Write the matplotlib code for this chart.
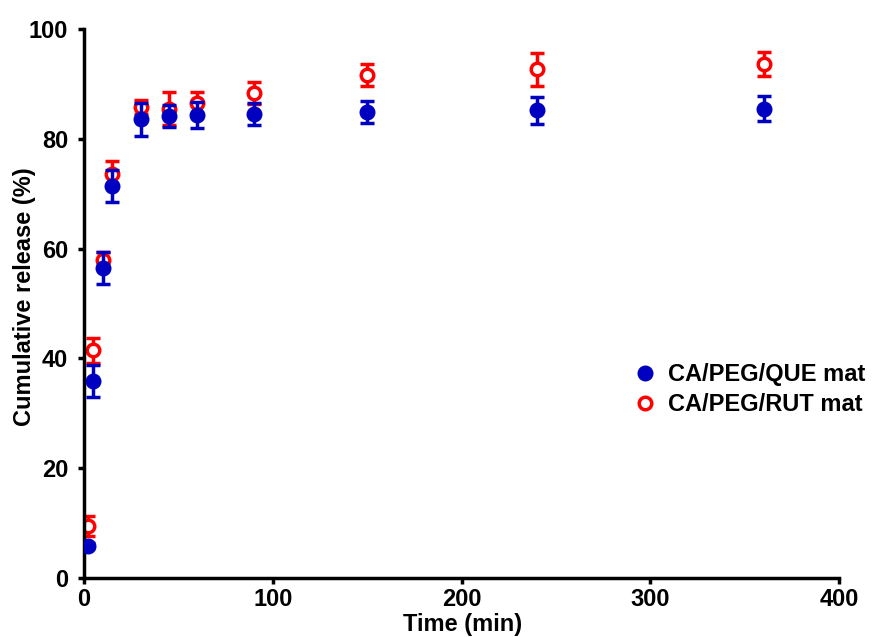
import matplotlib
matplotlib.use("Agg")
import matplotlib.pyplot as plt

plt.rcParams['font.family'] = ['Liberation Sans', 'DejaVu Sans']
plt.rcParams['font.weight'] = 'bold'

# release data
time_min = [2, 5, 10, 15, 30, 45, 60, 90, 150, 240, 360]
que = [5.9, 35.9, 56.4, 71.4, 83.6, 84.2, 84.3, 84.5, 84.8, 85.2, 85.5]
que_err = [0.4, 2.9, 2.9, 2.9, 3.0, 2.0, 2.4, 2.0, 2.0, 2.5, 2.3]
rut = [9.5, 41.5, 58.0, 73.6, 85.8, 85.5, 86.5, 88.3, 91.7, 92.7, 93.7]
rut_err = [1.8, 2.3, 1.4, 2.4, 1.2, 3.0, 2.0, 2.0, 2.0, 3.0, 2.2]

fig = plt.figure(figsize=(8.73, 6.37), dpi=100)
ax = fig.add_axes([84/873, 1-578/637, 755/873, 549/637])

ax.errorbar(time_min, que, yerr=que_err, fmt='o', color='#0000C0', ms=10.5,
            elinewidth=2.5, capsize=5, capthick=2.5, label='CA/PEG/QUE mat', zorder=3)
ax.errorbar(time_min, rut, yerr=rut_err, fmt='o', color='#FF0000', mfc='white',
            mec='#FF0000', mew=2.5, ms=9, elinewidth=2.5, capsize=5, capthick=2.5,
            label='CA/PEG/RUT mat', zorder=2)

ax.set_xlim(0, 400)
ax.set_ylim(0, 100)
ax.set_xticks([0, 100, 200, 300, 400])
ax.set_yticks([0, 20, 40, 60, 80, 100])
for s in ['top', 'right']:
    ax.spines[s].set_visible(False)
for s in ['left', 'bottom']:
    ax.spines[s].set_linewidth(2.5)
ax.tick_params(width=2.5, length=4.5, labelsize=17)
ax.tick_params(axis='y', pad=7)
ax.tick_params(axis='x', pad=3)
for lab in ax.get_xticklabels() + ax.get_yticklabels():
    lab.set_fontweight('bold')

ax.set_xlabel('Time (min)', fontsize=17, fontweight='bold')
ax.set_ylabel('Cumulative release (%)', fontsize=17, fontweight='bold')
ax.xaxis.set_label_coords(0.501, -0.063)
ax.yaxis.set_label_coords(-0.0636, 0.513)

h, l = ax.get_legend_handles_labels()
h = [x[0] for x in h]
ax.legend(h, l, loc='center left', bbox_to_anchor=(0.727, 0.343), frameon=False,
          handletextpad=0.5, handlelength=1.0, labelspacing=0.3,
          borderpad=0, borderaxespad=0,
          prop={'weight': 'bold', 'size': 17})

fig.savefig('out.png', dpi=100)
